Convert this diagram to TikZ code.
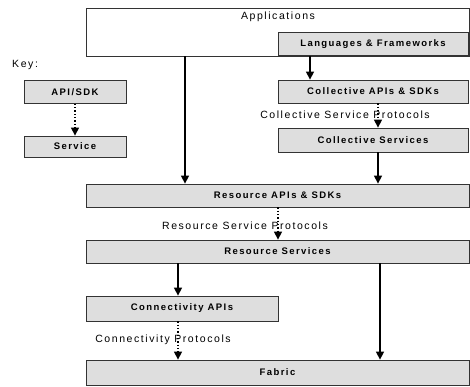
\documentclass[tikz,border=0pt]{standalone}
\usepackage{fontspec}
\setmainfont{Liberation Sans}
\newfontfamily\boxfont[LetterSpace=15]{Liberation Sans}
\newfontfamily\txtfont[LetterSpace=15]{Liberation Sans}
\usetikzlibrary{arrows.meta}
\begin{document}
\begin{tikzpicture}[x=1pt,y=-1pt,
  box/.style={draw=black!80,line width=0.8pt,fill=black!13,inner sep=0pt,
    font=\boxfont\bfseries\fontsize{9.5}{11}\selectfont},
  plain/.style={font=\txtfont\fontsize{10.5}{12}\selectfont,inner sep=0pt},
  arr/.style={line width=1.5pt,-{Triangle[length=8pt,width=8pt]}},
  darr/.style={line width=1.3pt,dotted,-{Triangle[length=8pt,width=8pt]}}]
\useasboundingbox (0,0) rectangle (470,387);
% Applications
\node[draw=black!80,line width=0.8pt,fill=white,minimum width=383pt,minimum height=48pt,inner sep=0pt] (app) at (277.5,32) {};
\node[plain,anchor=north] (applab) at (278,12) {Applications};
\node[box,minimum width=190pt,minimum height=23pt] (lang) at (373,44) {Languages \& Frameworks};
\node[box,minimum width=190pt,minimum height=23pt] (capi) at (373,91.5) {Collective APIs \& SDKs};
\node[box,minimum width=190pt,minimum height=24pt] (csrv) at (373,140) {Collective Services};
\node[plain] (cprot) at (345,115) {Collective Service Protocols};
\node[box,minimum width=383pt,minimum height=23pt] (rapi) at (277.5,195.5) {Resource APIs \& SDKs};
\node[plain] (rprot) at (245,226) {Resource Service Protocols};
\node[box,minimum width=383pt,minimum height=23pt] (rsrv) at (277.5,251.5) {Resource Services};
\node[box,minimum width=192pt,minimum height=25pt] (conn) at (182,308.5) {Connectivity APIs};
\node[plain] (cnprot) at (163,340) {Connectivity Protocols};
\node[box,minimum width=383pt,minimum height=25pt] (fab) at (277.5,372.5) {Fabric};
% Key
\node[plain,anchor=west] (key) at (12,65) {Key:};
\node[box,minimum width=102pt,minimum height=23pt] (kapi) at (75,92) {API/SDK};
\node[box,minimum width=102pt,minimum height=21pt] (ksrv) at (75,146.5) {Service};
% arrows
\draw[arr] (app.south -| 185,0) -- (rapi.north -| 185,0);
\draw[arr] (lang.south -| 310,0) -- (capi.north -| 310,0);
\draw[darr] (capi.south -| 378,0) -- (csrv.north -| 378,0);
\draw[arr] (csrv.south -| 378,0) -- (rapi.north -| 378,0);
\draw[darr] (rapi.south -| 278,0) -- (rsrv.north -| 278,0);
\draw[arr] (rsrv.south -| 178,0) -- (conn.north -| 178,0);
\draw[darr] (conn.south -| 178,0) -- (fab.north -| 178,0);
\draw[arr] (rsrv.south -| 380,0) -- (fab.north -| 380,0);
\draw[darr] (kapi) -- (ksrv);
\end{tikzpicture}
\end{document}
